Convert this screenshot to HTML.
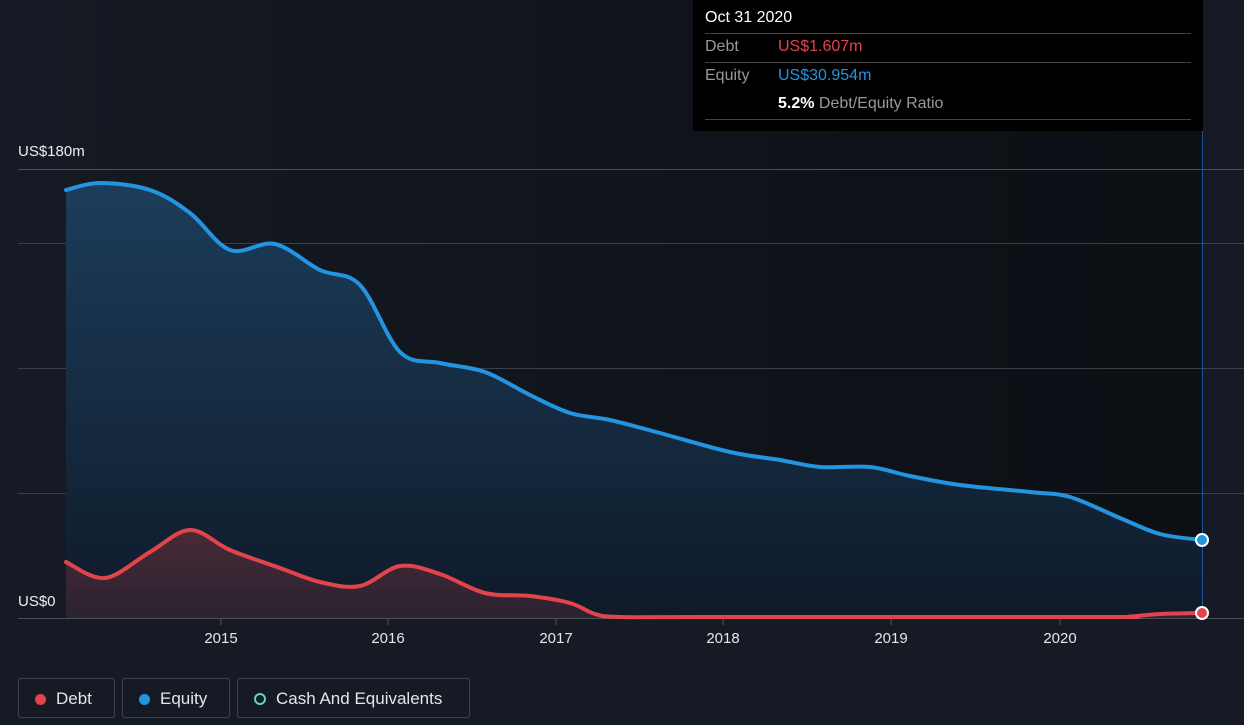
<!DOCTYPE html>
<html><head><meta charset="utf-8"><style>
body{margin:0;background:#151a24;font-family:"Liberation Sans",sans-serif;}
#w{position:relative;width:1244px;height:725px;overflow:hidden;background:#151a24}
.tt{position:absolute;left:693px;top:0;width:510px;height:131px;background:#000;color:#fff;font-size:16px}
.leg{position:absolute;top:678px;height:40px;border:1px solid #3d4450;border-radius:3px;color:#e6e6e6;font-size:17px;line-height:40px;box-sizing:border-box}
.dot{display:inline-block;width:11px;height:11px;border-radius:50%;margin:0 10px 0 16px;vertical-align:-1px}
</style></head><body><div id="w">
<svg width="1244" height="725" style="position:absolute;left:0;top:0">
<defs>
<linearGradient id="bg" x1="0" x2="1" y1="0" y2="0"><stop offset="0" stop-color="#141922"/><stop offset="1" stop-color="#0c0f14"/></linearGradient>
<linearGradient id="eq" x1="0" x2="0" y1="0" y2="1"><stop offset="0" stop-color="#1c3d5b"/><stop offset="1" stop-color="#0f1a29"/></linearGradient>
<linearGradient id="db" x1="0" x2="0" y1="0" y2="1"><stop offset="0" stop-color="#4a2a36"/><stop offset="1" stop-color="#2a2230"/></linearGradient>
</defs>
<rect x="66" y="0" width="1136" height="618" fill="url(#bg)"/>
<g stroke="#3a3f48" stroke-width="1">
<line x1="18" x2="1244" y1="169.5" y2="169.5" stroke="#4a4f58"/>
<line x1="18" x2="1244" y1="243.5" y2="243.5"/>
<line x1="18" x2="1244" y1="368.5" y2="368.5"/>
<line x1="18" x2="1244" y1="493.5" y2="493.5"/>
<line x1="18" x2="1244" y1="618.5" y2="618.5" stroke="#4a4f58"/>
</g>
<path id="ef" fill="url(#eq)"/><path id="df" fill="url(#db)"/>
<line x1="1202.5" x2="1202.5" y1="131" y2="614" stroke="#1d4f9a" stroke-width="1"/>
<path id="el" fill="none" stroke="#2394e0" stroke-width="4" stroke-linecap="round"/>
<path id="dl" fill="none" stroke="#e2444c" stroke-width="4" stroke-linecap="round"/>
<circle cx="1202" cy="540" r="6" fill="#2394e0" stroke="#fff" stroke-width="2"/>
<circle cx="1202" cy="613" r="6" fill="#e2444c" stroke="#fff" stroke-width="2"/>
<g stroke="#555" ><line x1="221" x2="221" y1="619" y2="625"/><line x1="388" x2="388" y1="619" y2="625"/><line x1="556" x2="556" y1="619" y2="625"/><line x1="723" x2="723" y1="619" y2="625"/><line x1="891" x2="891" y1="619" y2="625"/><line x1="1060" x2="1060" y1="619" y2="625"/></g>
<g fill="#e6e6e6" font-size="15" text-anchor="middle" font-family="Liberation Sans,sans-serif">
<text x="221" y="643">2015</text><text x="388" y="643">2016</text><text x="556" y="643">2017</text><text x="723" y="643">2018</text><text x="891" y="643">2019</text><text x="1060" y="643">2020</text>
</g>
<g fill="#eee" font-size="15" font-family="Liberation Sans,sans-serif"><text x="18" y="156">US$180m</text><text x="18" y="606">US$0</text></g>
</svg>
<div class="tt">
<div style="position:absolute;left:12px;top:9px">Oct 31 2020</div>
<div style="position:absolute;left:12px;right:12px;top:33px;border-top:1px solid #444"></div>
<div style="position:absolute;left:12px;top:38px;color:#999">Debt</div><div style="position:absolute;left:85px;top:38px;color:#e2444c">US$1.607m</div>
<div style="position:absolute;left:12px;right:12px;top:62px;border-top:1px solid #444"></div>
<div style="position:absolute;left:12px;top:67px;color:#999">Equity</div><div style="position:absolute;left:85px;top:67px;color:#2394e0">US$30.954m</div>
<div style="position:absolute;left:85px;top:95px"><b>5.2%</b> <span style="color:#999">Debt/Equity Ratio</span></div>
<div style="position:absolute;left:12px;right:12px;top:119px;border-top:1px solid #444"></div>
</div>
<div class="leg" style="left:18px;width:97px"><span class="dot" style="background:#e2444c"></span>Debt</div>
<div class="leg" style="left:122px;width:108px"><span class="dot" style="background:#2394e0"></span>Equity</div>
<div class="leg" style="left:237px;width:233px"><span class="dot" style="border:2px solid #5ed6c4;width:8px;height:8px;margin-left:16px"></span>Cash And Equivalents</div>
</div>
<script>
function sm(p){let d="M"+p[0][0]+","+p[0][1];for(let i=0;i<p.length-1;i++){const a=p[i-1]||p[i],b=p[i],c=p[i+1],e=p[i+2]||c;d+=" C"+(b[0]+(c[0]-a[0])/6)+","+(b[1]+(c[1]-a[1])/6)+" "+(c[0]-(e[0]-b[0])/6)+","+(c[1]-(e[1]-b[1])/6)+" "+c[0]+","+c[1];}return d;}
const E=[[66,190],[100,183],[150,190],[190,213],[230,250],[275,244],[320,270],[360,285],[400,352],[440,363],[485,372],[530,395],[570,413],[610,420],[660,433],[730,452],[780,460],[820,467],[870,467],[910,476],[960,485],[1030,492],[1070,497],[1120,518],[1160,534],[1202,540]];
const D=[[66,562],[105,578],[150,552],[190,530],[230,550],[280,568],[320,582],[360,586],[400,566],[440,574],[485,593],[530,596],[570,603],[595,614],[620,617],[700,617],[1100,617],[1130,616.5],[1160,614],[1202,613]];
const e=sm(E),d=sm(D);
document.getElementById("el").setAttribute("d",e);document.getElementById("dl").setAttribute("d",d);
document.getElementById("ef").setAttribute("d",e+" L1202,618 L66,618Z");document.getElementById("df").setAttribute("d",d+" L1202,618 L66,618Z");
</script>
</body></html>
